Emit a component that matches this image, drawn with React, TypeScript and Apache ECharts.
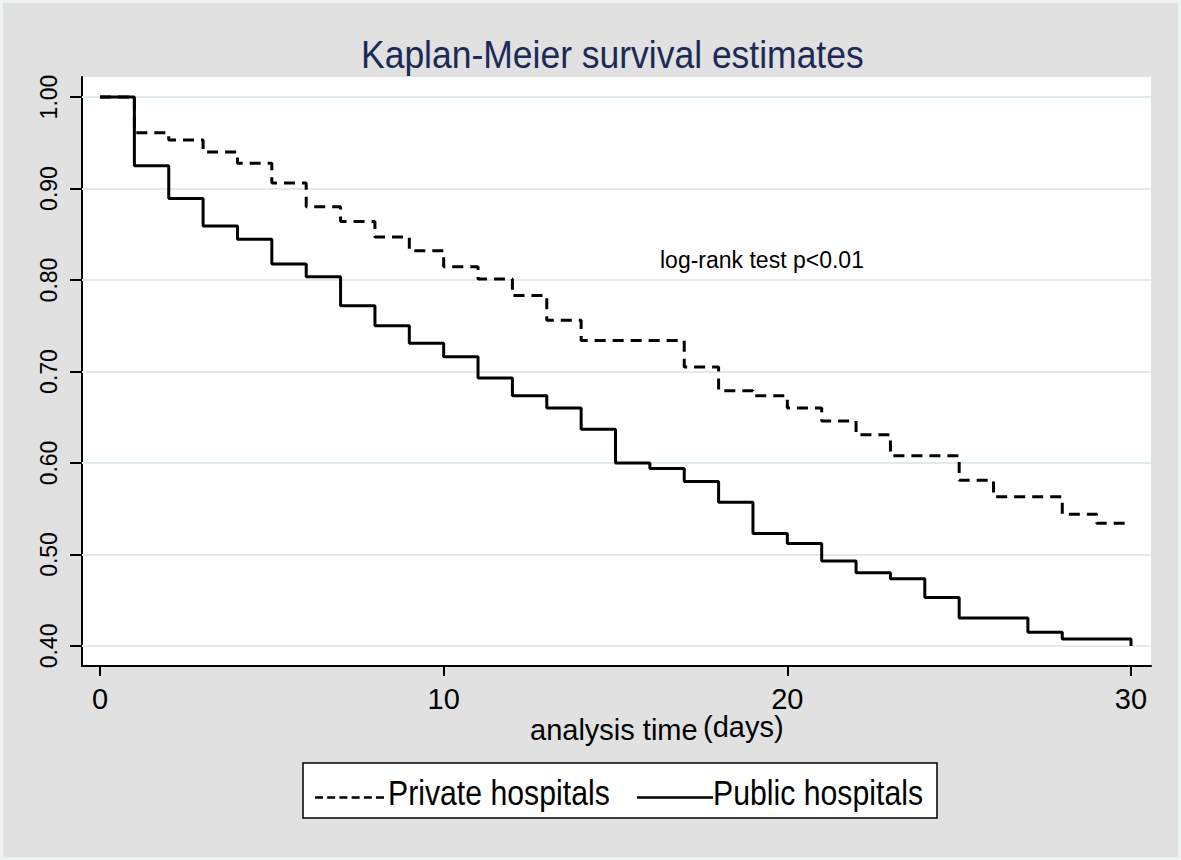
import React, { useEffect, useRef } from "react";
import * as echarts from "echarts";

// ---- data ----
const privateDays = [0, 1, 2, 3, 4, 5, 6, 7, 8, 9, 10, 11, 12, 13, 14, 17, 18, 19, 20, 21, 22, 23, 25, 26, 28, 29, 30];
const privateSurv = [1.0, 0.961, 0.953, 0.94, 0.9275, 0.906, 0.88, 0.864, 0.847, 0.832, 0.8145, 0.801, 0.783, 0.756, 0.734, 0.705, 0.679, 0.6735, 0.66, 0.646, 0.631, 0.608, 0.581, 0.563, 0.544, 0.534, 0.534];
const publicDays = [0, 1, 2, 3, 4, 5, 6, 7, 8, 9, 10, 11, 12, 13, 14, 15, 16, 17, 18, 19, 20, 21, 22, 23, 24, 25, 27, 28, 30];
const publicSurv = [1.0, 0.925, 0.889, 0.859, 0.8445, 0.8175, 0.8036, 0.772, 0.75, 0.731, 0.716, 0.693, 0.6735, 0.66, 0.637, 0.6, 0.594, 0.5797, 0.557, 0.523, 0.512, 0.493, 0.48, 0.4735, 0.453, 0.4306, 0.415, 0.4077, 0.4];
const xTicks = [0, 10, 20, 30];
const yTicks = [0.4, 0.5, 0.6, 0.7, 0.8, 0.9, 1.0];
const seriesNames = ["Private hospitals", "Public hospitals"];
const titleText = "Kaplan-Meier survival estimates";
const noteText = "log-rank test p<0.01";
const xTitleA = "analysis time";
const xTitleB = "(days)";

const FONT = "'Liberation Sans', Arial, Helvetica, sans-serif";

export default function App() {
  const ref = useRef<HTMLDivElement>(null);
  useEffect(() => {
    if (!ref.current) return;
    const chart = echarts.init(ref.current, null, { renderer: "svg" });
    const option: any = {
      animation: false,
      backgroundColor: "#e1e1e1",
      grid: {
        left: 82,
        right: 30,
        top: 77,
        bottom: 194,
        show: true,
        backgroundColor: "#ffffff",
        borderWidth: 0,
        containLabel: false,
      },
      xAxis: {
        type: "value",
        min: -0.524,
        max: 30.582,
        axisLine: { show: true, onZero: false, lineStyle: { color: "#000", width: 2 } },
        axisTick: { show: true, customValues: xTicks, length: 10, lineStyle: { color: "#000", width: 2 } },
        axisLabel: {
          show: true,
          customValues: xTicks,
          fontSize: 29,
          color: "#000",
          fontFamily: FONT,
          margin: 18,
        },
        splitLine: { show: false },
      },
      yAxis: {
        type: "value",
        min: 0.3781,
        max: 1.0219,
        axisLine: { show: true, onZero: false, lineStyle: { color: "#000", width: 2 } },
        axisTick: { show: true, customValues: yTicks, length: 12, lineStyle: { color: "#000", width: 2 } },
        axisLabel: {
          show: true,
          customValues: yTicks,
          rotate: 90,
          fontSize: 23,
          color: "#000",
          fontFamily: FONT,
          margin: 22,
          formatter: (v: number) => v.toFixed(2),
        },
        splitLine: { show: false },
      },
      series: [
        {
          type: "line",
          name: "grid",
          data: [],
          z: 1,
          silent: true,
          markLine: {
            silent: true,
            z: 1,
            symbol: ["none", "none"],
            label: { show: false },
            lineStyle: { color: "#e2ebeb", width: 2, type: "solid" },
            data: yTicks.map((v) => ({ yAxis: v })),
          },
        },
        {
          type: "line",
          name: seriesNames[0],
          step: "end",
          z: 3,
          showSymbol: false,
          symbol: "none",
          lineStyle: { color: "#000", width: 3, type: [11, 7] },
          data: privateDays.map((d, i) => [d, privateSurv[i]]),
        },
        {
          type: "line",
          name: seriesNames[1],
          step: "end",
          z: 4,
          showSymbol: false,
          symbol: "none",
          lineStyle: { color: "#000", width: 3, type: "solid" },
          data: publicDays.map((d, i) => [d, publicSurv[i]]),
        },
      ],
      graphic: [
        {
          type: "rect",
          silent: true,
          shape: { x: 1.5, y: 1.5, width: 1178, height: 857 },
          style: { fill: "none", stroke: "#edf2f2", lineWidth: 3 },
        },
        {
          type: "text",
          x: 361,
          y: 54,
          scaleX: 0.91,
          style: {
            text: titleText,
            fontSize: 39,
            fontFamily: FONT,
            fill: "#1b2a56",
            textAlign: "left",
            textVerticalAlign: "middle",
          },
        },
        {
          type: "text",
          x: 660,
          y: 260,
          z: 10,
          style: {
            text: noteText,
            fontSize: 23,
            fontFamily: FONT,
            fill: "#000",
            textAlign: "left",
            textVerticalAlign: "middle",
          },
        },
        {
          type: "text",
          x: 530,
          y: 730,
          style: {
            text: xTitleA,
            fontSize: 29,
            fontFamily: FONT,
            fill: "#000",
            textAlign: "left",
            textVerticalAlign: "middle",
          },
        },
        {
          type: "text",
          x: 703,
          y: 727,
          style: {
            text: xTitleB,
            fontSize: 29,
            fontFamily: FONT,
            fill: "#000",
            textAlign: "left",
            textVerticalAlign: "middle",
          },
        },
        {
          type: "rect",
          shape: { x: 303, y: 763, width: 634, height: 55 },
          style: { fill: "#fff", stroke: "#000", lineWidth: 1.5 },
        },
        {
          type: "line",
          shape: { x1: 315, y1: 797.5, x2: 388, y2: 797.5 },
          style: { stroke: "#000", lineWidth: 2.5, lineDash: [8, 4.2] },
        },
        {
          type: "text",
          x: 388,
          y: 793,
          scaleX: 0.84,
          style: {
            text: seriesNames[0],
            fontSize: 36,
            fontFamily: FONT,
            fill: "#000",
            textAlign: "left",
            textVerticalAlign: "middle",
          },
        },
        {
          type: "line",
          shape: { x1: 637, y1: 797.5, x2: 713, y2: 797.5 },
          style: { stroke: "#000", lineWidth: 2.5 },
        },
        {
          type: "text",
          x: 713,
          y: 793,
          scaleX: 0.84,
          style: {
            text: seriesNames[1],
            fontSize: 36,
            fontFamily: FONT,
            fill: "#000",
            textAlign: "left",
            textVerticalAlign: "middle",
          },
        },
      ],
    };
    chart.setOption(option);
    return () => chart.dispose();
  }, []);
  return (
    <div
      ref={ref}
      style={{ position: "absolute", left: 0, top: 0, width: 1181, height: 860 }}
    />
  );
}
